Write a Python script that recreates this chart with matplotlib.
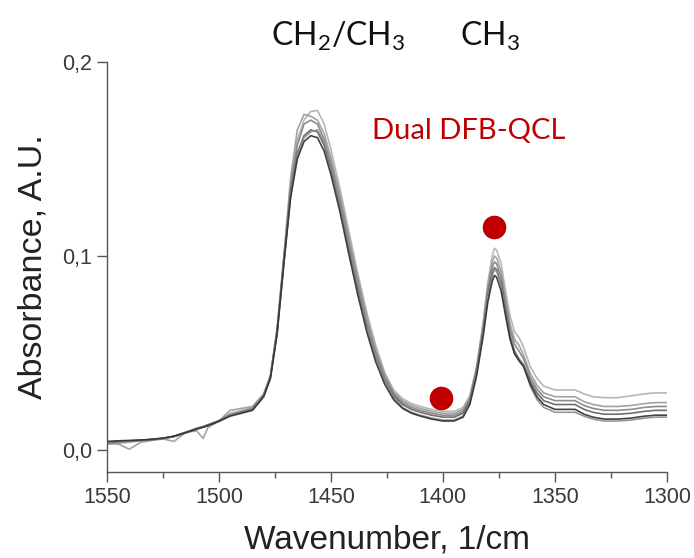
import matplotlib.pyplot as plt
from matplotlib.ticker import MultipleLocator

# wavenumber grid (1/cm)
wavenumber = [1550, 1545, 1540, 1535, 1530, 1525, 1520, 1515, 1510, 1507, 1505, 1500, 1495, 1490, 1485,
              1480, 1477, 1474, 1471, 1468, 1465, 1462, 1459, 1456, 1453, 1450,
              1446, 1442, 1438, 1434, 1430, 1426, 1422, 1418, 1414, 1410, 1405, 1400, 1395, 1391,
              1388, 1385, 1382, 1380, 1378, 1377, 1376, 1374, 1372, 1370, 1368, 1366, 1364,
              1361, 1358, 1355, 1350, 1345, 1341, 1337, 1333, 1328, 1322, 1316, 1310, 1305, 1300]

spec_a = [0.0045, 0.0048, 0.0050, 0.0052, 0.0056, 0.0062, 0.0072, 0.0090, 0.0108, 0.0118, 0.0126, 0.0148, 0.0175, 0.0190, 0.0205,
          0.0275, 0.0370, 0.0600, 0.0960, 0.1300, 0.1500, 0.1590, 0.1620, 0.1610, 0.1540, 0.1420,
          0.1230, 0.1010, 0.0800, 0.0610, 0.0455, 0.0340, 0.0260, 0.0215, 0.0190, 0.0175, 0.0160, 0.0150, 0.0150, 0.0170,
          0.0235, 0.0380, 0.0590, 0.0760, 0.0870, 0.0900, 0.0890, 0.0820, 0.0690, 0.0570, 0.0495, 0.0460, 0.0430,
          0.0340, 0.0275, 0.0235, 0.0210, 0.0210, 0.0210, 0.0185, 0.0170, 0.0160, 0.0160, 0.0165, 0.0175, 0.0180, 0.0180]
spec_b = [0.0040, 0.0045, 0.0048, 0.0051, 0.0055, 0.0060, 0.0070, 0.0088, 0.0110, 0.0120, 0.0128, 0.0150, 0.0180, 0.0195, 0.0210,
          0.0280, 0.0375, 0.0610, 0.0970, 0.1320, 0.1530, 0.1620, 0.1650, 0.1640, 0.1570, 0.1450,
          0.1260, 0.1040, 0.0830, 0.0640, 0.0480, 0.0360, 0.0280, 0.0235, 0.0210, 0.0195, 0.0180, 0.0170, 0.0170, 0.0190,
          0.0250, 0.0400, 0.0610, 0.0790, 0.0910, 0.0940, 0.0930, 0.0860, 0.0720, 0.0590, 0.0510, 0.0470, 0.0440,
          0.0355, 0.0295, 0.0255, 0.0235, 0.0235, 0.0235, 0.0210, 0.0195, 0.0185, 0.0185, 0.0190, 0.0200, 0.0205, 0.0205]
spec_c = [0.0035, 0.0040, 0.0045, 0.0050, 0.0054, 0.0060, 0.0072, 0.0092, 0.0112, 0.0122, 0.0130, 0.0152, 0.0182, 0.0198, 0.0215,
          0.0285, 0.0380, 0.0620, 0.0990, 0.1350, 0.1570, 0.1680, 0.1700, 0.1680, 0.1600, 0.1480,
          0.1290, 0.1070, 0.0860, 0.0660, 0.0500, 0.0375, 0.0290, 0.0245, 0.0220, 0.0205, 0.0190, 0.0180, 0.0180, 0.0200,
          0.0260, 0.0410, 0.0630, 0.0810, 0.0940, 0.0970, 0.0960, 0.0890, 0.0750, 0.0620, 0.0545, 0.0510, 0.0470,
          0.0375, 0.0315, 0.0275, 0.0255, 0.0255, 0.0255, 0.0230, 0.0215, 0.0205, 0.0205, 0.0210, 0.0220, 0.0225, 0.0225]
spec_d = [0.0035, 0.0032, 0.0005, 0.0040, 0.0050, 0.0058, 0.0045, 0.0090, 0.0100, 0.0060, 0.0115, 0.0150, 0.0205, 0.0215, 0.0225,
          0.0290, 0.0385, 0.0630, 0.1000, 0.1400, 0.1650, 0.1730, 0.1720, 0.1700, 0.1630, 0.1510,
          0.1320, 0.1100, 0.0890, 0.0690, 0.0520, 0.0390, 0.0300, 0.0255, 0.0230, 0.0215, 0.0200, 0.0190, 0.0190, 0.0210,
          0.0270, 0.0420, 0.0650, 0.0840, 0.0970, 0.1000, 0.0990, 0.0920, 0.0780, 0.0650, 0.0570, 0.0540, 0.0490,
          0.0395, 0.0335, 0.0295, 0.0275, 0.0275, 0.0275, 0.0250, 0.0235, 0.0225, 0.0225, 0.0230, 0.0240, 0.0245, 0.0245]
spec_e = [0.0030, 0.0035, 0.0040, 0.0048, 0.0052, 0.0058, 0.0070, 0.0090, 0.0112, 0.0122, 0.0130, 0.0152, 0.0190, 0.0205, 0.0220,
          0.0285, 0.0380, 0.0620, 0.0990, 0.1360, 0.1600, 0.1700, 0.1745, 0.1750, 0.1680, 0.1550,
          0.1350, 0.1130, 0.0910, 0.0710, 0.0540, 0.0400, 0.0310, 0.0265, 0.0240, 0.0225, 0.0210, 0.0200, 0.0200, 0.0220,
          0.0280, 0.0430, 0.0660, 0.0860, 0.1000, 0.1040, 0.1030, 0.0960, 0.0820, 0.0690, 0.0610, 0.0580, 0.0530,
          0.0430, 0.0370, 0.0330, 0.0310, 0.0310, 0.0310, 0.0290, 0.0275, 0.0270, 0.0270, 0.0280, 0.0290, 0.0295, 0.0295]
spec_f = [0.0040, 0.0044, 0.0048, 0.0051, 0.0055, 0.0060, 0.0070, 0.0089, 0.0109, 0.0119, 0.0127, 0.0149, 0.0178, 0.0193, 0.0208,
          0.0278, 0.0372, 0.0605, 0.0965, 0.1310, 0.1520, 0.1610, 0.1640, 0.1650, 0.1590, 0.1470,
          0.1280, 0.1060, 0.0850, 0.0650, 0.0485, 0.0360, 0.0270, 0.0220, 0.0195, 0.0180, 0.0165, 0.0155, 0.0155, 0.0175,
          0.0245, 0.0395, 0.0605, 0.0785, 0.0900, 0.0930, 0.0920, 0.0850, 0.0705, 0.0580, 0.0500, 0.0465, 0.0435,
          0.0330, 0.0260, 0.0220, 0.0195, 0.0195, 0.0195, 0.0175, 0.0160, 0.0150, 0.0150, 0.0155, 0.0165, 0.0170, 0.0170]

spectra = [spec_e, spec_d, spec_c, spec_b, spec_f, spec_a]
spec_colours = ['#b0b0b0', '#9a9a9a', '#808080', '#5e5e5e', '#8c8c8c', '#2e2e2e']

# laser lines of the dual DFB-QCL
laser_wn = [1401, 1377]
laser_abs = [0.027, 0.115]

x_ticks = [1550, 1500, 1450, 1400, 1350, 1300]
y_ticks = [0.0, 0.1, 0.2]
y_tick_labels = ['0,0', '0,1', '0,2']

plt.rcParams['mathtext.fontset'] = 'custom'
plt.rcParams['mathtext.rm'] = 'Lato'

fig = plt.figure(figsize=(6.94, 5.58), dpi=100)
ax = fig.add_axes([0.154, 0.154, 0.807, 0.735])

for spec, col in zip(spectra, spec_colours):
    ax.plot(wavenumber, spec, color=col, lw=1.2, alpha=0.9)

ax.plot(laser_wn, laser_abs, 'o', color='#c00000', markersize=17, markeredgewidth=0, clip_on=False)

ax.set_xlim(1550, 1300)
ax.set_ylim(-0.0113, 0.2)
ax.set_xticks(x_ticks)
ax.xaxis.set_minor_locator(MultipleLocator(25))
ax.set_yticks(y_ticks)
ax.set_yticklabels(y_tick_labels)

for side in ['top', 'right']:
    ax.spines[side].set_visible(False)
for side in ['left', 'bottom']:
    ax.spines[side].set_color('#555555')
    ax.spines[side].set_linewidth(1.0)

ax.tick_params(which='both', direction='out', colors='#555555', labelcolor='#3a3a3a',
               labelsize=15.5, length=7, width=1.0)
ax.tick_params(which='minor', length=4)

ax.set_xlabel('Wavenumber, 1/cm', fontsize=24, family='Liberation Sans', color='#222222', labelpad=12)
ax.set_ylabel('Absorbance, A.U.', fontsize=24.5, family='Liberation Sans', color='#222222', labelpad=10)
for lab in ax.get_xticklabels() + ax.get_yticklabels():
    lab.set_family('Liberation Sans')

fig.text(0.487, 0.935, 'CH$_2$/CH$_3$', fontsize=23, family='Lato', ha='center', va='center', color='#111111')
fig.text(0.706, 0.935, 'CH$_3$', fontsize=23, family='Lato', ha='center', va='center', color='#111111')
fig.text(0.676, 0.766, 'Dual DFB-QCL', fontsize=21, family='Lato', ha='center', va='center', color='#c00000')

fig.savefig('out.png', dpi=100)
